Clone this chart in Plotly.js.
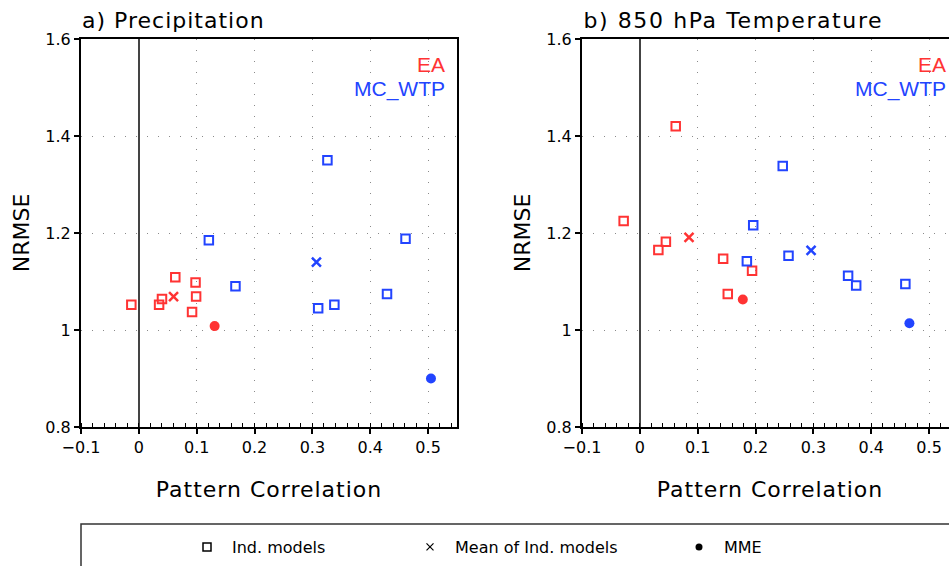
<!DOCTYPE html>
<html><head><meta charset="utf-8">
<script src="https://cdn.plot.ly/plotly-3.0.1.min.js"></script>
<style>
html,body{margin:0;padding:0;overflow:hidden;background:#fff}
g.annotation[data-index="0"] text{letter-spacing:1px}
g.annotation[data-index="1"] text{letter-spacing:1.6px}
g.g-xtitle text, g.g-x2title text{letter-spacing:1px}
</style>
</head><body><div id="chart" style="width:960px;height:566px"></div>
<script>
// ---------- data ----------
const panelTitles = ["a) Precipitation", "b) 850 hPa Temperature"];
const regionNames = ["EA", "MC_WTP"];
const legendLabels = ["Ind. models", "Mean of Ind. models", "MME"];

// a) Precipitation
const precipEAIndX  = [-0.013, 0.035, 0.040, 0.063, 0.098, 0.099, 0.092];
const precipEAIndY  = [1.052, 1.052, 1.064, 1.109, 1.098, 1.069, 1.037];
const precipEAMeanX = [0.060];
const precipEAMeanY = [1.069];
const precipEAMMEX  = [0.131];
const precipEAMMEY  = [1.008];
const precipMCIndX  = [0.121, 0.167, 0.326, 0.310, 0.338, 0.429, 0.461];
const precipMCIndY  = [1.185, 1.090, 1.350, 1.045, 1.052, 1.074, 1.188];
const precipMCMeanX = [0.307];
const precipMCMeanY = [1.140];
const precipMCMMEX  = [0.505];
const precipMCMMEY  = [0.900];

// b) 850 hPa Temperature
const tempEAIndX  = [-0.028, 0.062, 0.032, 0.045, 0.144, 0.194, 0.152];
const tempEAIndY  = [1.225, 1.420, 1.165, 1.182, 1.147, 1.122, 1.074];
const tempEAMeanX = [0.085];
const tempEAMeanY = [1.191];
const tempEAMMEX  = [0.178];
const tempEAMMEY  = [1.063];
const tempMCIndX  = [0.247, 0.196, 0.257, 0.185, 0.360, 0.374, 0.459];
const tempMCIndY  = [1.338, 1.216, 1.153, 1.142, 1.112, 1.092, 1.095];
const tempMCMeanX = [0.296];
const tempMCMeanY = [1.164];
const tempMCMMEX  = [0.466];
const tempMCMMEY  = [1.014];

// ---------- styles ----------
const RED = '#ff3333', BLUE = '#2244ff';
const W = 960, H = 566;
const FONT = 'DejaVu Sans, Liberation Sans, sans-serif';

function ind(x, y, c, xa, ya) {
  return {x, y, xaxis: xa, yaxis: ya, type: 'scatter', mode: 'markers', showlegend: false, hoverinfo: 'skip',
    marker: {symbol: 'square-open', size: 8.5, color: c, line: {width: 2, color: c}}};
}
function mean(x, y, c, xa, ya) {
  return {x, y, xaxis: xa, yaxis: ya, type: 'scatter', mode: 'markers', showlegend: false, hoverinfo: 'skip',
    marker: {symbol: 'x-thin-open', size: 9, color: c, line: {width: 2.5, color: c}}};
}
function mme(x, y, c, xa, ya) {
  return {x, y, xaxis: xa, yaxis: ya, type: 'scatter', mode: 'markers', showlegend: false, hoverinfo: 'skip',
    marker: {symbol: 'circle', size: 10, color: c}};
}

const traces = [
  ind(precipEAIndX, precipEAIndY, RED, 'x', 'y'),
  mean(precipEAMeanX, precipEAMeanY, RED, 'x', 'y'),
  mme(precipEAMMEX, precipEAMMEY, RED, 'x', 'y'),
  ind(precipMCIndX, precipMCIndY, BLUE, 'x', 'y'),
  mean(precipMCMeanX, precipMCMeanY, BLUE, 'x', 'y'),
  mme(precipMCMMEX, precipMCMMEY, BLUE, 'x', 'y'),
  ind(tempEAIndX, tempEAIndY, RED, 'x2', 'y2'),
  mean(tempEAMeanX, tempEAMeanY, RED, 'x2', 'y2'),
  mme(tempEAMMEX, tempEAMMEY, RED, 'x2', 'y2'),
  ind(tempMCIndX, tempMCIndY, BLUE, 'x2', 'y2'),
  mean(tempMCMeanX, tempMCMeanY, BLUE, 'x2', 'y2'),
  mme(tempMCMMEX, tempMCMMEY, BLUE, 'x2', 'y2'),
  // legend entries (black)
  {x: [null], y: [null], type: 'scatter', mode: 'markers', name: legendLabels[0], legend: 'legend',
   marker: {symbol: 'square-open', size: 8, color: '#000', line: {width: 1.5, color: '#000'}}},
  {x: [null], y: [null], type: 'scatter', mode: 'markers', name: legendLabels[1], legend: 'legend2',
   marker: {symbol: 'x-thin-open', size: 7, color: '#000', line: {width: 1.2, color: '#000'}}},
  {x: [null], y: [null], type: 'scatter', mode: 'markers', name: legendLabels[2], legend: 'legend3',
   marker: {symbol: 'circle', size: 7, color: '#000'}}
];

const plotTop = 39, plotBot = 427;
const yDom = [(H - plotBot) / H, (H - plotTop) / H];
const domA = [81 / W, 457 / W], domB = [582 / W, 958 / W];

function xax(dom, anchor) {
  return {domain: dom, anchor, range: [-0.1, 0.55], dtick: 0.1, tick0: 0,
    showgrid: true, gridcolor: '#8a8a8a', gridwidth: 1, griddash: '1px,10px',
    zeroline: true, zerolinecolor: '#444', zerolinewidth: 1.5,
    showline: true, linecolor: '#000', linewidth: 2, mirror: true,
    ticks: 'outside', ticklen: 5, tickwidth: 1.5, tickcolor: '#000',
    minor: {ticks: 'inside', ticklen: 4, dtick: 0.02, tickcolor: '#000', tickwidth: 1, showgrid: false},
    tickfont: {family: FONT, size: 16, color: '#000'},
    title: {text: 'Pattern Correlation', font: {family: FONT, size: 22, color: '#000'}, standoff: 25},
    automargin: false, fixedrange: true};
}
function yax(anchor) {
  return {domain: yDom, anchor, range: [0.8, 1.6], dtick: 0.2,
    showgrid: true, gridcolor: '#8a8a8a', gridwidth: 1, griddash: '1px,10px',
    zeroline: false,
    showline: true, linecolor: '#000', linewidth: 2, mirror: true,
    ticks: 'outside', ticklen: 5, tickwidth: 1.5, tickcolor: '#000',
    tickfont: {family: FONT, size: 16, color: '#000'},
    title: {text: 'NRMSE', font: {family: FONT, size: 22, color: '#000'}, standoff: 10},
    automargin: false, fixedrange: true};
}
function topAx(dom, overlay, anchor) {
  return {domain: dom, overlaying: overlay, anchor, side: 'top', range: [-0.1, 0.55],
    dtick: 0.02, tick0: 0, ticks: 'inside', ticklen: 4, tickwidth: 1, tickcolor: '#000',
    showticklabels: false, showgrid: false, zeroline: false, showline: false, fixedrange: true};
}

function regionAnn(xref, yref, text, y, color) {
  return {xref, yref, x: 1, y, xanchor: 'right', yanchor: 'middle', xshift: -10, showarrow: false,
    text, font: {family: 'Liberation Sans, sans-serif', size: 21, color}};
}

const legendCommon = {orientation: 'h', bgcolor: 'rgba(0,0,0,0)', borderwidth: 0, itemwidth: 40,
  font: {family: FONT, size: 16, color: '#000'}, xanchor: 'left', yanchor: 'middle',
  y: (H - 547) / H, itemclick: false, itemdoubleclick: false};

const layout = {
  width: W, height: H,
  margin: {l: 0, r: 0, t: 0, b: 0, autoexpand: false},
  paper_bgcolor: '#fff', plot_bgcolor: '#fff',
  showlegend: true,
  xaxis: xax(domA, 'y'),
  yaxis: yax('x'),
  xaxis2: xax(domB, 'y2'),
  yaxis2: yax('x2'),
  xaxis3: topAx(domA, 'x', 'y'),
  xaxis4: topAx(domB, 'x2', 'y2'),
  legend: Object.assign({}, legendCommon, {x: 182 / W}),
  legend2: Object.assign({}, legendCommon, {x: 405 / W}),
  legend3: Object.assign({}, legendCommon, {x: 674 / W}),
  annotations: [
    {xref: 'paper', yref: 'paper', x: 88 / W, y: (H - 20) / H, xanchor: 'left', yanchor: 'middle',
     showarrow: false, text: panelTitles[0], font: {family: FONT, size: 22, color: '#000'}},
    {xref: 'paper', yref: 'paper', x: 599 / W, y: (H - 20) / H, xanchor: 'left', yanchor: 'middle',
     showarrow: false, text: panelTitles[1], font: {family: FONT, size: 22, color: '#000'}},
    regionAnn('x domain', 'y domain', regionNames[0], 0.934, RED),
    regionAnn('x domain', 'y domain', regionNames[1], 0.870, BLUE),
    regionAnn('x2 domain', 'y2 domain', regionNames[0], 0.934, RED),
    regionAnn('x2 domain', 'y2 domain', regionNames[1], 0.870, BLUE)
  ],
  shapes: [
    {type: 'rect', xref: 'paper', yref: 'paper', x0: 81 / W, x1: 1.1, y0: -0.2, y1: (H - 524) / H,
     line: {color: '#333', width: 1.5}, fillcolor: 'rgba(0,0,0,0)'}
  ]
};

Plotly.newPlot('chart', traces, layout, {displayModeBar: false, responsive: false});
</script></body></html>
